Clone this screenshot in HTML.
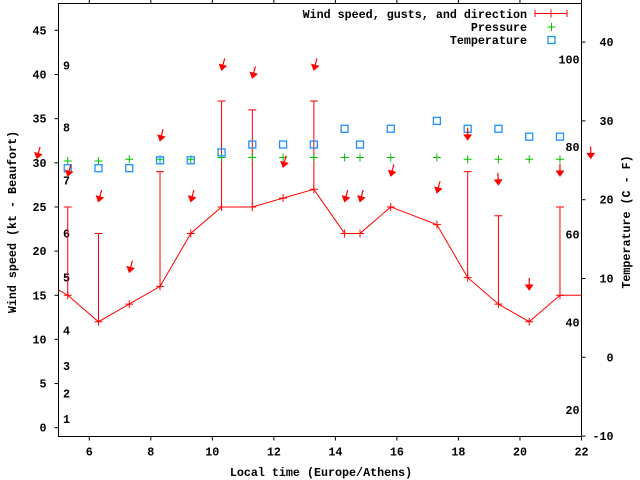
<!DOCTYPE html>
<html><head><meta charset="utf-8"><style>
html,body{margin:0;padding:0;background:#fff}
svg{display:block}
text{font-family:"Liberation Mono","DejaVu Sans Mono",monospace;font-weight:bold;font-size:11.7px;fill:#000}
</style></head><body>
<svg id="chart" width="640" height="480" viewBox="0 0 640 480">
<g id="axes"></g><g id="series"></g><g id="legend"></g>
</svg>
<script>
const hours = [5.3,6.3,7.3,8.3,9.3,10.3,11.3,12.3,13.3,14.3,14.8,15.8,17.3,18.3,19.3,20.3,21.3];
const windSpeed = [15,12,14,16,22,25,25,26,27,22,22,25,23,17,14,12,15];
const windLineStart = [5.0,15.6];
const windLineEnd = [22,15];
const gusts = [25,22,null,29,null,37,36,null,37,null,null,null,null,29,24,null,25];
const pressure = [30.2,30.2,30.4,30.4,30.4,30.6,30.6,30.6,30.6,30.6,30.6,30.6,30.6,30.4,30.4,30.4,30.4];
const temperature = [24,24,24,25,25,26,27,27,27,29,27,29,30,29,29,28,28];
const arrowHours = [4.3,5.3,6.3,7.3,8.3,9.3,10.3,11.3,12.3,13.3,14.3,14.8,15.8,17.3,18.3,19.3,20.3,21.3,22.3];
const arrowLevels = [30.5,28.5,25.6,17.6,32.5,25.6,40.5,39.6,29.5,40.5,25.6,25.6,28.5,26.6,32.6,27.5,15.6,28.5,30.5];
const arrowDirs = [15,15,15,15,15,15,15,15,15,15,15,15,15,15,0,357,0,0,0];
const xTicks = [6,8,10,12,14,16,18,20,22];
const yTicks = [0,5,10,15,20,25,30,35,40,45];
const tempTicks = [-10,0,10,20,30,40];
const beaufortLabels = ['1','2','3','4','5','6','7','8','9'];
const beaufortLevels = [1,3.9,7,11,17,22,28,34,41];
const fahrenheitLabels = ['20','40','60','80','100'];
const fahrenheitValues = [20,40,60,80,100];

const L=58.5,R=581.5,T=3.5,B=436.5;
const xs=h=>L+(h-5)*(R-L)/17;
const ys=v=>427.7-v*8.83;
const yt=c=>357.3-c*7.88;
const NS='http://www.w3.org/2000/svg';
function mk(tag,parent,attrs){const e=document.createElementNS(NS,tag);for(const k in attrs)e.setAttribute(k,attrs[k]);parent.appendChild(e);return e;}
const ax=document.getElementById('axes'),se=document.getElementById('series'),lg=document.getElementById('legend');

let fr=mk('rect',ax,{x:L,y:T,width:R-L,height:B-T,fill:'none',stroke:'#000','stroke-width':1});


xTicks.forEach(h=>{
 const x=xs(h);
 let t=mk('line',ax,{x1:x,y1:B,x2:x,y2:B+4,stroke:'#000'});
 
 
 let t2=mk('line',ax,{x1:x,y1:T,x2:x,y2:T-4,stroke:'#000'});
 
 
 let tx=mk('text',ax,{x:x,y:B+19,'text-anchor':'middle'});tx.textContent=h;
 
 
});
yTicks.forEach(v=>{
 const y=ys(v);
 let t=mk('line',ax,{x1:L,y1:y,x2:L-4,y2:y,stroke:'#000'});
 
 
 let tx=mk('text',ax,{x:L-12,y:y+4,'text-anchor':'end'});tx.textContent=v;
 
 
});
tempTicks.forEach(c=>{
 const y=yt(c);
 let t=mk('line',ax,{x1:R,y1:y,x2:R+4,y2:y,stroke:'#000'});
 
 
 let tx=mk('text',ax,{x:R+32,y:y+4,'text-anchor':'end'});tx.textContent=c;
 
 
});
beaufortLabels.forEach((s,i)=>{
 let tx=mk('text',ax,{x:63,y:ys(beaufortLevels[i])+4});tx.textContent=s;
 
 
});
fahrenheitLabels.forEach((s,i)=>{
 let tx=mk('text',ax,{x:R-2,y:yt((fahrenheitValues[i]-32)*5/9)+4,'text-anchor':'end'});tx.textContent=s;
 
 
});
let xt=mk('text',ax,{x:321,y:476,'text-anchor':'middle'});xt.textContent='Local time (Europe/Athens)';


let ylt=mk('text',ax,{x:0,y:0,'text-anchor':'middle',transform:'translate(16,222) rotate(-90)'});ylt.textContent='Wind speed (kt - Beaufort)';


let yrt=mk('text',ax,{x:0,y:0,'text-anchor':'middle',transform:'translate(630,222) rotate(-90)'});yrt.textContent='Temperature (C - F)';



const RED='#ff0000',GREEN='#00c000',BLUE='#1e90ff';
function plus(p,x,y,c,name){
 const g=mk('path',p,{d:`M${x-4},${y}H${x+4}M${x},${y-4}V${y+4}`,stroke:c,fill:'none'});
 
 
}
const pts=[[windLineStart[0],windLineStart[1]]].concat(hours.map((h,i)=>[h,windSpeed[i]])).concat([[windLineEnd[0],windLineEnd[1]]]);
let wl=mk('polyline',se,{points:pts.map(p=>xs(p[0])+','+ys(p[1])).join(' '),fill:'none',stroke:RED});


hours.forEach((h,i)=>{
 const x=xs(h);
 if(gusts[i]!=null){
  const e=mk('path',se,{d:`M${x},${ys(windSpeed[i])}V${ys(gusts[i])}M${x-4},${ys(gusts[i])}H${x+4}`,stroke:RED,fill:'none'});
  
  
 }
 plus(se,x,ys(windSpeed[i]),RED,'wind-speed-point');
 plus(se,x,ys(pressure[i]),GREEN,'pressure-point');
 const sq=mk('rect',se,{x:x-3.5,y:yt(temperature[i])-3.5,width:7,height:7,fill:'none',stroke:BLUE,'stroke-width':1.3});
 
 
});
arrowHours.forEach((h,i)=>{
 const hx=xs(h),hy=ys(arrowLevels[i]);
 const a=arrowDirs[i]*Math.PI/180;
 const ux=Math.sin(a),uy=-Math.cos(a);
 const tx=hx+ux*12,ty=hy+uy*12;
 const px=-uy,py=ux;
 const bx=hx+ux*5,by=hy+uy*5;
 const g=mk('g',se,{});
 
 
 mk('line',g,{x1:tx,y1:ty,x2:hx,y2:hy,stroke:RED,'stroke-width':1.2});
 mk('polygon',g,{points:`${hx},${hy} ${bx+px*3.5},${by+py*3.5} ${bx-px*3.5},${by-py*3.5}`,fill:RED,stroke:RED});
});
const lrows=[['Wind speed, gusts, and direction',14],['Pressure',27],['Temperature',40]];
lrows.forEach(r=>{
 const t=mk('text',lg,{x:527,y:r[1]+4,'text-anchor':'end'});t.textContent=r[0];
 
 
});
let le=mk('path',lg,{d:'M535,13.5H567M535,10V17M567,10V17M551,9.5V17.5',stroke:RED,fill:'none'});


plus(lg,551.5,27,GREEN,'legend-pressure-sample');
let ls=mk('rect',lg,{x:548,y:36.5,width:7,height:7,fill:'none',stroke:BLUE,'stroke-width':1.3});


</script>
</body></html>
